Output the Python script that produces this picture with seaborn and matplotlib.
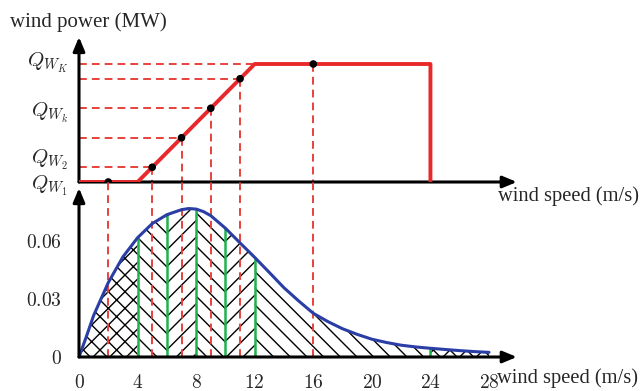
import numpy as np
import matplotlib.pyplot as plt
import matplotlib.transforms as mtransforms
import seaborn as sns

# wind speed distribution
speed = [0, 0.5, 1, 2, 3, 4, 5, 6, 7, 7.5, 8, 8.5, 9, 10, 11, 12, 13, 14,
         15, 16, 17, 18, 19, 20, 21, 22, 23, 24, 25, 26, 27, 28]
pdf_values = [0.0, 0.0105, 0.0215, 0.0385, 0.0518, 0.0617, 0.0690, 0.0736,
              0.0762, 0.0768, 0.0765, 0.0752, 0.0731, 0.0666, 0.0590, 0.0515,
              0.0437, 0.0358, 0.0290, 0.0226, 0.0183, 0.0146, 0.0117, 0.0092,
              0.0075, 0.0061, 0.0052, 0.0045, 0.0039, 0.0033, 0.0028, 0.0024]

# wind power curve (upper panel), power normalised to rated = 1
curve_speed = [0, 4, 12, 24, 24]
curve_power = [0, 0, 1, 1, 0]
dot_speed = [2, 5, 7, 9, 11, 16]
dot_power = [0, 0.125, 0.375, 0.625, 0.875, 1.0]
hline_end = [5, 7, 9, 11, 12]
hline_level = [0.125, 0.375, 0.625, 0.875, 1.0]
q_levels = [0, 0.125, 0.625, 1.0]
q_labels = [r'$Q_{W_1}$', r'$Q_{W_2}$', r'$Q_{W_k}$', r'$Q_{W_K}$']
q_shift = [-6, 2, -6, -2]   # baseline offset of each label, points

# hatched bins under the pdf
bin_edges = [(0, 4), (4, 6), (6, 8), (8, 10), (10, 12), (12, 24), (24, 28)]
bin_hatch = ['xx', '\\\\', '//', '\\\\', '//', '\\\\', 'xx']
green_speed = [4, 6, 8, 10, 12, 24]

x_ticks = [0, 4, 8, 12, 16, 20, 24, 28]
y_ticks = [0, 0.03, 0.06]
y_tick_labels = ['$0$', '$0.03$', '$0.06$']

sns.set_theme(style='white')
plt.rcParams['font.family'] = ['Liberation Serif', 'DejaVu Serif']
plt.rcParams['mathtext.fontset'] = 'cm'
plt.rcParams['hatch.linewidth'] = 1.0

red = '#e8282b'
red_dash = '#e8423c'
blue = '#2a3ea6'
green = '#1fb24a'

W, H = 643, 391
fig = plt.figure(figsize=(6.43, 3.91), dpi=100)
left = 79 / W
width = 30 * 14.643 / W
ax_up = fig.add_axes([left, (H - 182) / H, width, 152 / H])
ax_low = fig.add_axes([left, (H - 357) / H, width, 175 / H])

for ax in (ax_up, ax_low):
    for sp in ax.spines.values():
        sp.set_visible(False)
    ax.set_xlim(0, 30)
    ax.set_facecolor('none')
ax_up.set_ylim(0, 152 / 118)
ax_low.set_ylim(0, 175 / 1933.3)

dash = (0, (4, 2.6))
arrow = dict(arrowstyle='-|>,head_length=0.6,head_width=0.25', lw=2.2,
             color='black', shrinkA=0, shrinkB=0, mutation_scale=14)

# ---- upper panel: power curve
for e, lv in zip(hline_end, hline_level):
    ax_up.plot([0, e], [lv, lv], color=red_dash, lw=1.4, ls=dash, zorder=2)
for s, p in zip(dot_speed, dot_power):
    ax_up.plot([s, s], [p, 0], color=red_dash, lw=1.4, ls=dash, zorder=2)
    ax_low.plot([s, s], [0, 1], color=red_dash, lw=1.4, ls=dash, zorder=4)

ax_up.annotate('', xy=(29.9, 0), xytext=(0, 0), arrowprops=arrow, zorder=3)
ax_up.annotate('', xy=(0, 1.229), xytext=(0, 0), arrowprops=arrow, zorder=3)
sns.lineplot(x=curve_speed, y=curve_power, sort=False, estimator=None,
             color=red, lw=2.8, ax=ax_up, zorder=4)
sns.scatterplot(x=dot_speed, y=dot_power, color='black', s=30, ax=ax_up,
                zorder=5, edgecolor='none')

ax_up.set_xticks([])
ax_up.set_yticks([])
for lv, lab, dy in zip(q_levels, q_labels, q_shift):
    tr = mtransforms.offset_copy(ax_up.transData, fig=fig, x=-8, y=dy,
                                 units='points')
    ax_up.text(0, lv, lab, transform=tr, ha='right', va='baseline',
               fontsize=15)

# ---- lower panel: wind speed distribution
s_arr = np.array(speed)
p_arr = np.array(pdf_values)
for (lo, hi), h in zip(bin_edges, bin_hatch):
    m = (s_arr >= lo) & (s_arr <= hi)
    ax_low.fill_between(s_arr[m], 0, p_arr[m], facecolor='none',
                        edgecolor='black', hatch=h, lw=0, zorder=1)
ax_low.vlines(green_speed, 0, [pdf_values[speed.index(s)] for s in green_speed],
              color=green, lw=1.8, zorder=3)
sns.lineplot(x=speed, y=pdf_values, color=blue, lw=2.2, ax=ax_low, zorder=5)

ax_low.annotate('', xy=(29.9, 0), xytext=(0, 0), arrowprops=arrow, zorder=6)
ax_low.annotate('', xy=(0, 0.0874), xytext=(0, 0), arrowprops=arrow, zorder=6)

ax_low.set_xticks(x_ticks, [f'${t}$' for t in x_ticks])
ax_low.set_yticks(y_ticks, y_tick_labels)
ax_low.tick_params(axis='both', direction='inout', length=11, width=2.6,
                   color='black', labelsize=14, pad=7)
ax_low.xaxis.get_major_ticks()[0].tick1line.set_visible(False)
ax_low.yaxis.get_major_ticks()[0].tick1line.set_visible(False)

fig.text(10 / W, 1 - 22 / H, 'wind power (MW)', fontsize=15, va='center')
fig.text(498 / W, 1 - 196 / H, 'wind speed (m/s)', fontsize=14.8, va='center')
fig.text(497 / W, 1 - 378 / H, 'wind speed (m/s)', fontsize=14.8, va='center')

fig.savefig('out.png', dpi=100)
